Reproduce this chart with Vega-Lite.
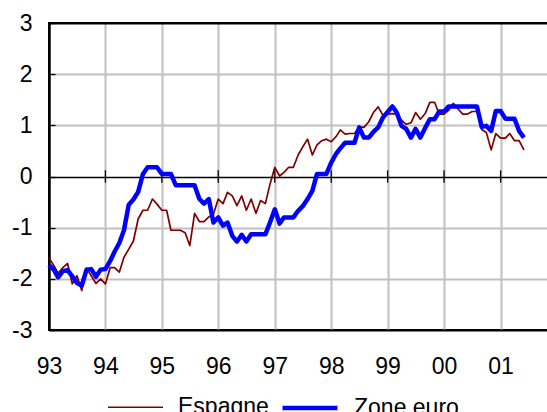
{
  "$schema": "https://vega.github.io/schema/vega-lite/v6.json",
  "width": 508,
  "height": 307,
  "autosize": {"type": "none"},
  "padding": {"left": 49, "top": 23, "right": 0, "bottom": 82},
  "background": "white",
  "config": {
    "view": {"stroke": "black", "strokeWidth": 2},
    "font": "Liberation Sans",
    "axisX": {
      "format": "%y", "labelFlush": false, "labelFontSize": 23, "labelColor": "black",
      "labelPadding": 25, "ticks": false, "domain": false, "grid": true, "gridWidth": 2
    },
    "axisY": {
      "labelFontSize": 23, "labelColor": "black", "labelPadding": 23, "tickSize": -6,
      "tickColor": "black", "tickWidth": 1.3, "domainColor": "black", "domainWidth": 2, "grid": true
    }
  },
  "datasets": {
    "series": [
      {"d":"1993/01/01","Espagne":-1.59,"Zone euro":-1.73},
      {"d":"1993/02/01","Espagne":-1.74,"Zone euro":-1.82},
      {"d":"1993/03/01","Espagne":-1.89,"Zone euro":-1.97},
      {"d":"1993/04/01","Espagne":-1.78,"Zone euro":-1.85},
      {"d":"1993/05/01","Espagne":-1.70,"Zone euro":-1.83},
      {"d":"1993/06/01","Espagne":-2.10,"Zone euro":-1.95},
      {"d":"1993/07/01","Espagne":-1.94,"Zone euro":-2.08},
      {"d":"1993/08/01","Espagne":-2.23,"Zone euro":-2.13},
      {"d":"1993/09/01","Espagne":-1.79,"Zone euro":-1.82},
      {"d":"1993/10/01","Espagne":-1.94,"Zone euro":-1.81},
      {"d":"1993/11/01","Espagne":-2.09,"Zone euro":-1.96},
      {"d":"1993/12/01","Espagne":-2.00,"Zone euro":-1.82},
      {"d":"1994/01/01","Espagne":-2.10,"Zone euro":-1.81},
      {"d":"1994/02/01","Espagne":-1.78,"Zone euro":-1.65},
      {"d":"1994/03/01","Espagne":-1.78,"Zone euro":-1.47},
      {"d":"1994/04/01","Espagne":-1.87,"Zone euro":-1.30},
      {"d":"1994/05/01","Espagne":-1.58,"Zone euro":-1.05},
      {"d":"1994/06/01","Espagne":-1.42,"Zone euro":-0.55},
      {"d":"1994/07/01","Espagne":-1.26,"Zone euro":-0.45},
      {"d":"1994/08/01","Espagne":-0.83,"Zone euro":-0.30},
      {"d":"1994/09/01","Espagne":-0.66,"Zone euro":0.05},
      {"d":"1994/10/01","Espagne":-0.66,"Zone euro":0.18},
      {"d":"1994/11/01","Espagne":-0.44,"Zone euro":0.18},
      {"d":"1994/12/01","Espagne":-0.54,"Zone euro":0.18},
      {"d":"1995/01/01","Espagne":-0.66,"Zone euro":0.05},
      {"d":"1995/02/01","Espagne":-0.66,"Zone euro":0.05},
      {"d":"1995/03/01","Espagne":-1.05,"Zone euro":0.05},
      {"d":"1995/04/01","Espagne":-1.05,"Zone euro":-0.17},
      {"d":"1995/05/01","Espagne":-1.05,"Zone euro":-0.17},
      {"d":"1995/06/01","Espagne":-1.10,"Zone euro":-0.17},
      {"d":"1995/07/01","Espagne":-1.35,"Zone euro":-0.17},
      {"d":"1995/08/01","Espagne":-0.72,"Zone euro":-0.17},
      {"d":"1995/09/01","Espagne":-0.88,"Zone euro":-0.44},
      {"d":"1995/10/01","Espagne":-0.88,"Zone euro":-0.53},
      {"d":"1995/11/01","Espagne":-0.79,"Zone euro":-0.44},
      {"d":"1995/12/01","Espagne":-0.74,"Zone euro":-0.90},
      {"d":"1996/01/01","Espagne":-0.44,"Zone euro":-0.80},
      {"d":"1996/02/01","Espagne":-0.53,"Zone euro":-0.96},
      {"d":"1996/03/01","Espagne":-0.31,"Zone euro":-0.90},
      {"d":"1996/04/01","Espagne":-0.38,"Zone euro":-1.16},
      {"d":"1996/05/01","Espagne":-0.57,"Zone euro":-1.27},
      {"d":"1996/06/01","Espagne":-0.38,"Zone euro":-1.14},
      {"d":"1996/07/01","Espagne":-0.66,"Zone euro":-1.27},
      {"d":"1996/08/01","Espagne":-0.44,"Zone euro":-1.13},
      {"d":"1996/09/01","Espagne":-0.72,"Zone euro":-1.13},
      {"d":"1996/10/01","Espagne":-0.47,"Zone euro":-1.13},
      {"d":"1996/11/01","Espagne":-0.53,"Zone euro":-1.13},
      {"d":"1996/12/01","Espagne":-0.15,"Zone euro":-0.90},
      {"d":"1997/01/01","Espagne":0.18,"Zone euro":-0.64},
      {"d":"1997/02/01","Espagne":0.01,"Zone euro":-0.92},
      {"d":"1997/03/01","Espagne":0.08,"Zone euro":-0.80},
      {"d":"1997/04/01","Espagne":0.18,"Zone euro":-0.80},
      {"d":"1997/05/01","Espagne":0.18,"Zone euro":-0.80},
      {"d":"1997/06/01","Espagne":0.42,"Zone euro":-0.67},
      {"d":"1997/07/01","Espagne":0.58,"Zone euro":-0.58},
      {"d":"1997/08/01","Espagne":0.73,"Zone euro":-0.44},
      {"d":"1997/09/01","Espagne":0.42,"Zone euro":-0.28},
      {"d":"1997/10/01","Espagne":0.62,"Zone euro":0.05},
      {"d":"1997/11/01","Espagne":0.70,"Zone euro":0.05},
      {"d":"1997/12/01","Espagne":0.73,"Zone euro":0.05},
      {"d":"1998/01/01","Espagne":0.68,"Zone euro":0.27},
      {"d":"1998/02/01","Espagne":0.78,"Zone euro":0.44},
      {"d":"1998/03/01","Espagne":0.91,"Zone euro":0.55},
      {"d":"1998/04/01","Espagne":0.83,"Zone euro":0.66},
      {"d":"1998/05/01","Espagne":0.84,"Zone euro":0.66},
      {"d":"1998/06/01","Espagne":0.84,"Zone euro":0.66},
      {"d":"1998/07/01","Espagne":0.97,"Zone euro":0.96},
      {"d":"1998/08/01","Espagne":0.96,"Zone euro":0.76},
      {"d":"1998/09/01","Espagne":1.07,"Zone euro":0.76},
      {"d":"1998/10/01","Espagne":1.25,"Zone euro":0.87},
      {"d":"1998/11/01","Espagne":1.36,"Zone euro":0.96},
      {"d":"1998/12/01","Espagne":1.20,"Zone euro":1.15},
      {"d":"1999/01/01","Espagne":1.22,"Zone euro":1.26},
      {"d":"1999/02/01","Espagne":1.23,"Zone euro":1.37},
      {"d":"1999/03/01","Espagne":1.22,"Zone euro":1.25},
      {"d":"1999/04/01","Espagne":1.10,"Zone euro":0.99},
      {"d":"1999/05/01","Espagne":1.02,"Zone euro":0.93},
      {"d":"1999/06/01","Espagne":1.05,"Zone euro":0.76},
      {"d":"1999/07/01","Espagne":1.25,"Zone euro":0.93},
      {"d":"1999/08/01","Espagne":1.12,"Zone euro":0.76},
      {"d":"1999/09/01","Espagne":1.23,"Zone euro":0.95},
      {"d":"1999/10/01","Espagne":1.45,"Zone euro":1.12},
      {"d":"1999/11/01","Espagne":1.45,"Zone euro":1.12},
      {"d":"1999/12/01","Espagne":1.22,"Zone euro":1.27},
      {"d":"2000/01/01","Espagne":1.22,"Zone euro":1.27},
      {"d":"2000/02/01","Espagne":1.30,"Zone euro":1.37},
      {"d":"2000/03/01","Espagne":1.43,"Zone euro":1.37},
      {"d":"2000/04/01","Espagne":1.32,"Zone euro":1.37},
      {"d":"2000/05/01","Espagne":1.22,"Zone euro":1.37},
      {"d":"2000/06/01","Espagne":1.22,"Zone euro":1.37},
      {"d":"2000/07/01","Espagne":1.27,"Zone euro":1.37},
      {"d":"2000/08/01","Espagne":1.27,"Zone euro":1.37},
      {"d":"2000/09/01","Espagne":0.92,"Zone euro":0.97},
      {"d":"2000/10/01","Espagne":0.86,"Zone euro":0.99},
      {"d":"2000/11/01","Espagne":0.52,"Zone euro":0.89},
      {"d":"2000/12/01","Espagne":0.84,"Zone euro":1.28},
      {"d":"2001/01/01","Espagne":0.75,"Zone euro":1.28},
      {"d":"2001/02/01","Espagne":0.75,"Zone euro":1.13},
      {"d":"2001/03/01","Espagne":0.84,"Zone euro":1.13},
      {"d":"2001/04/01","Espagne":0.70,"Zone euro":1.13},
      {"d":"2001/05/01","Espagne":0.70,"Zone euro":0.89},
      {"d":"2001/06/01","Espagne":0.52,"Zone euro":0.76}
    ],
    "years": [
      {"d":"1994/01/01"},{"d":"1995/01/01"},{"d":"1996/01/01"},{"d":"1997/01/01"},
      {"d":"1998/01/01"},{"d":"1999/01/01"},{"d":"2000/01/01"},{"d":"2001/01/01"}
    ]
  },
  "layer": [
    {
      "data": {"name": "years"},
      "mark": {"type": "rule", "color": "black", "strokeWidth": 1.3},
      "encoding": {
        "x": {
          "field": "d", "type": "temporal",
          "scale": {"domain": ["1993/01/01", "2002/01/01"]},
          "axis": {
            "title": null,
            "values": [{"year":1993},{"year":1994},{"year":1995},{"year":1996},{"year":1997},{"year":1998},{"year":1999},{"year":2000},{"year":2001}],
            "gridColor": {"condition": {"test": "year(datum.value) == 1993", "value": "black"}, "value": "#c0c0c0"}
          }
        },
        "y": {
          "datum": -0.12, "type": "quantitative",
          "scale": {"domain": [-3, 3]},
          "axis": {
            "title": null,
            "values": [-3, -2, -1, 0, 1, 2, 3],
            "labelExpr": "toString(datum.value)",
            "gridColor": {"condition": {"test": "datum.value == 0 || abs(datum.value) == 3", "value": "black"}, "value": "#c0c0c0"},
            "gridWidth": {"condition": {"test": "datum.value == 0", "value": 1.3}, "value": 2}
          }
        },
        "y2": {"datum": 0.12}
      }
    },
    {
      "data": {"name": "series"},
      "transform": [{"fold": ["Espagne", "Zone euro"], "as": ["serie", "valeur"]}],
      "mark": {"type": "line", "strokeJoin": "round"},
      "encoding": {
        "x": {
          "field": "d", "type": "temporal",
          "scale": {"domain": ["1993/01/01", "2002/01/01"]},
          "axis": {
            "title": null,
            "values": [{"year":1993},{"year":1994},{"year":1995},{"year":1996},{"year":1997},{"year":1998},{"year":1999},{"year":2000},{"year":2001}],
            "gridColor": {"condition": {"test": "year(datum.value) == 1993", "value": "black"}, "value": "#c0c0c0"}
          }
        },
        "y": {
          "field": "valeur", "type": "quantitative",
          "scale": {"domain": [-3, 3]},
          "axis": {
            "title": null,
            "values": [-3, -2, -1, 0, 1, 2, 3],
            "labelExpr": "toString(datum.value)",
            "gridColor": {"condition": {"test": "datum.value == 0 || abs(datum.value) == 3", "value": "black"}, "value": "#c0c0c0"},
            "gridWidth": {"condition": {"test": "datum.value == 0", "value": 1.3}, "value": 2}
          }
        },
        "color": {
          "field": "serie", "type": "nominal",
          "scale": {"domain": ["Espagne", "Zone euro"], "range": ["#800000", "#0000ff"]},
          "legend": {
            "orient": "none", "legendX": 58, "legendY": 355, "direction": "horizontal",
            "title": null, "symbolType": "stroke", "symbolSize": 3025,
            "labelFontSize": 23, "labelColor": "black", "labelOffset": 14, "columnPadding": 4
          }
        },
        "strokeWidth": {
          "field": "serie", "type": "nominal",
          "scale": {"domain": ["Espagne", "Zone euro"], "range": [1.7, 4.5]},
          "legend": {
            "orient": "none", "legendX": 58, "legendY": 355, "direction": "horizontal",
            "title": null, "symbolType": "stroke", "symbolSize": 3025,
            "labelFontSize": 23, "labelColor": "black", "labelOffset": 14, "columnPadding": 4
          }
        }
      }
    }
  ]
}
